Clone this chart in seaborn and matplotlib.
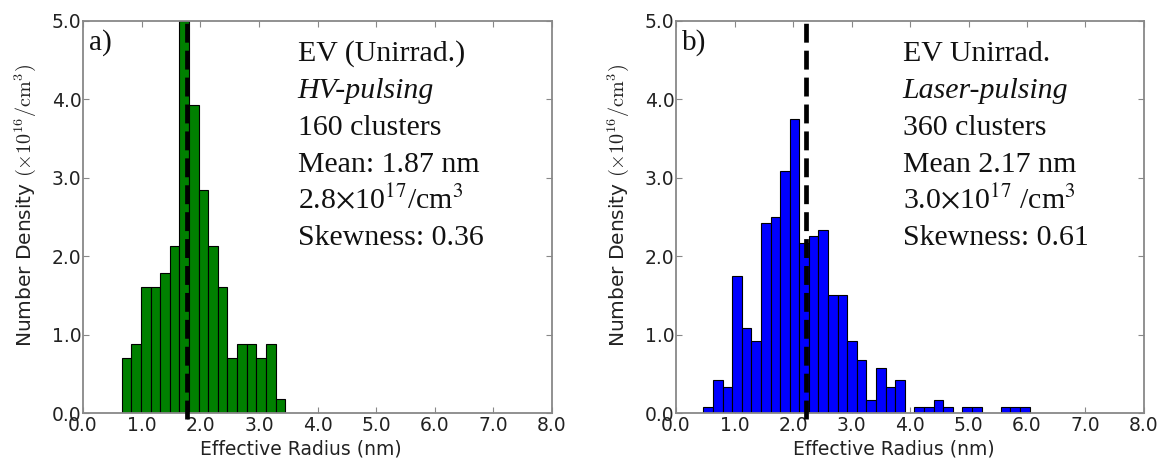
import numpy as np
import pandas as pd
import matplotlib
matplotlib.use("Agg")
import matplotlib.pyplot as plt
import seaborn as sns

# ---------------- data ----------------
bin_width = 0.164
left_bin_start = 0.66
right_bin_start = 0.467

# Number density (x10^16 /cm^3) per bin, panel a (HV-pulsing)
left_density = [0.70, 0.88, 1.60, 1.60, 1.78, 2.13, 5.00, 3.92, 2.84, 2.13,
                1.60, 0.70, 0.88, 0.88, 0.70, 0.88, 0.18]
# panel b (Laser-pulsing)
right_density = [0.08, 0.42, 0.33, 1.75, 1.08, 0.92, 2.42, 2.50, 3.08, 3.75,
                 2.17, 2.25, 2.33, 1.50, 1.50, 0.92, 0.67, 0.17, 0.58, 0.33,
                 0.42, 0.00, 0.08, 0.08, 0.17, 0.08, 0.00, 0.08, 0.08, 0.00,
                 0.00, 0.08, 0.08, 0.08]

left_mean_line = 1.78
right_mean_line = 2.23

x_ticks = [0, 1, 2, 3, 4, 5, 6, 7, 8]
y_ticks = [0, 1, 2, 3, 4, 5]

left_text = ["EV (Unirrad.)", "HV-pulsing", "160 clusters", "Mean: 1.87 nm",
             r"2.8$\times$10$^{17}$/cm$^{3}$", "Skewness: 0.36"]
right_text = ["EV Unirrad.", "Laser-pulsing", "360 clusters", "Mean 2.17 nm",
              r"3.0$\times$10$^{17}$ /cm$^{3}$", "Skewness: 0.61"]
panel_labels = ["a)", "b)"]

xlabel = "Effective Radius (nm)"
ylabel = r"Number Density $(\times10^{16}/\mathrm{cm}^{3})$"

# ---------------- style ----------------
sns.set_style("white")
plt.rcParams["font.family"] = ["DejaVu Sans"]
plt.rcParams["mathtext.fontset"] = "cm"
plt.rcParams["lines.scale_dashes"] = True

fig = plt.figure(figsize=(11.69, 4.67), dpi=100)
ax_l = fig.add_axes([0.0710, 0.1156, 0.4012, 0.8400])
ax_r = fig.add_axes([0.5783, 0.1156, 0.4003, 0.8400])


def make_df(start, dens):
    n = len(dens)
    centers = start + bin_width * (np.arange(n) + 0.5)
    return pd.DataFrame({"radius": centers, "density": dens}), n


panels = [
    (ax_l, left_bin_start, left_density, "#008000", left_mean_line, left_text, panel_labels[0]),
    (ax_r, right_bin_start, right_density, "#0000ff", right_mean_line, right_text, panel_labels[1]),
]

for ax, start, dens, color, mline, texts, plabel in panels:
    df, n = make_df(start, dens)
    sns.histplot(data=df, x="radius", weights="density", bins=n,
                 binrange=(start, start + n * bin_width), ax=ax,
                 color=color, edgecolor="black", linewidth=0.8, alpha=1.0)
    ax.vlines(mline, -0.07, 5.0, colors="black", linewidth=3.4,
              linestyles=(0, (4.0, 1.7)), clip_on=False, zorder=5)
    ax.set_xlim(0, 8)
    ax.set_ylim(0, 5)
    ax.set_xticks(x_ticks)
    ax.set_yticks(y_ticks)
    ax.set_xticklabels([f"{v:.1f}" for v in x_ticks])
    ax.set_yticklabels([f"{v:.1f}" for v in y_ticks])
    ax.tick_params(axis="both", which="both", direction="in", length=4,
                   width=0.8, color="#888888", labelsize=13.5,
                   labelcolor="#222222", top=True, right=True,
                   bottom=True, left=True)
    ax.tick_params(axis="x", pad=2)
    ax.tick_params(axis="y", pad=1)
    for sp in ax.spines.values():
        sp.set_color("#888888")
        sp.set_linewidth(1.3)
        sp.set_visible(True)
    ax.set_xlabel(xlabel, fontsize=13.5, color="#222222")
    ax.set_ylabel(ylabel, fontsize=14.5, color="#222222")
    ax.xaxis.set_label_coords(0.465, -0.068)
    ax.yaxis.set_label_coords(-0.097, 0.53)
    ax.grid(False)

    ax.text(0.012, 0.925, plabel, transform=ax.transAxes, fontsize=21,
            family="Liberation Serif", color="#111111", va="baseline", ha="left")

tx = {ax_l: 0.458, ax_r: 0.484}
for ax, _, _, _, _, texts, _ in panels:
    for i, t in enumerate(texts):
        style = "italic" if i == 1 else "normal"
        ax.text(tx[ax], 0.897 - i * 0.0938, t, transform=ax.transAxes,
                fontsize=21.5, family="Liberation Serif", style=style,
                math_fontfamily="stix",
                color="#111111", va="baseline", ha="left")

fig.savefig("out.png", dpi=100)
